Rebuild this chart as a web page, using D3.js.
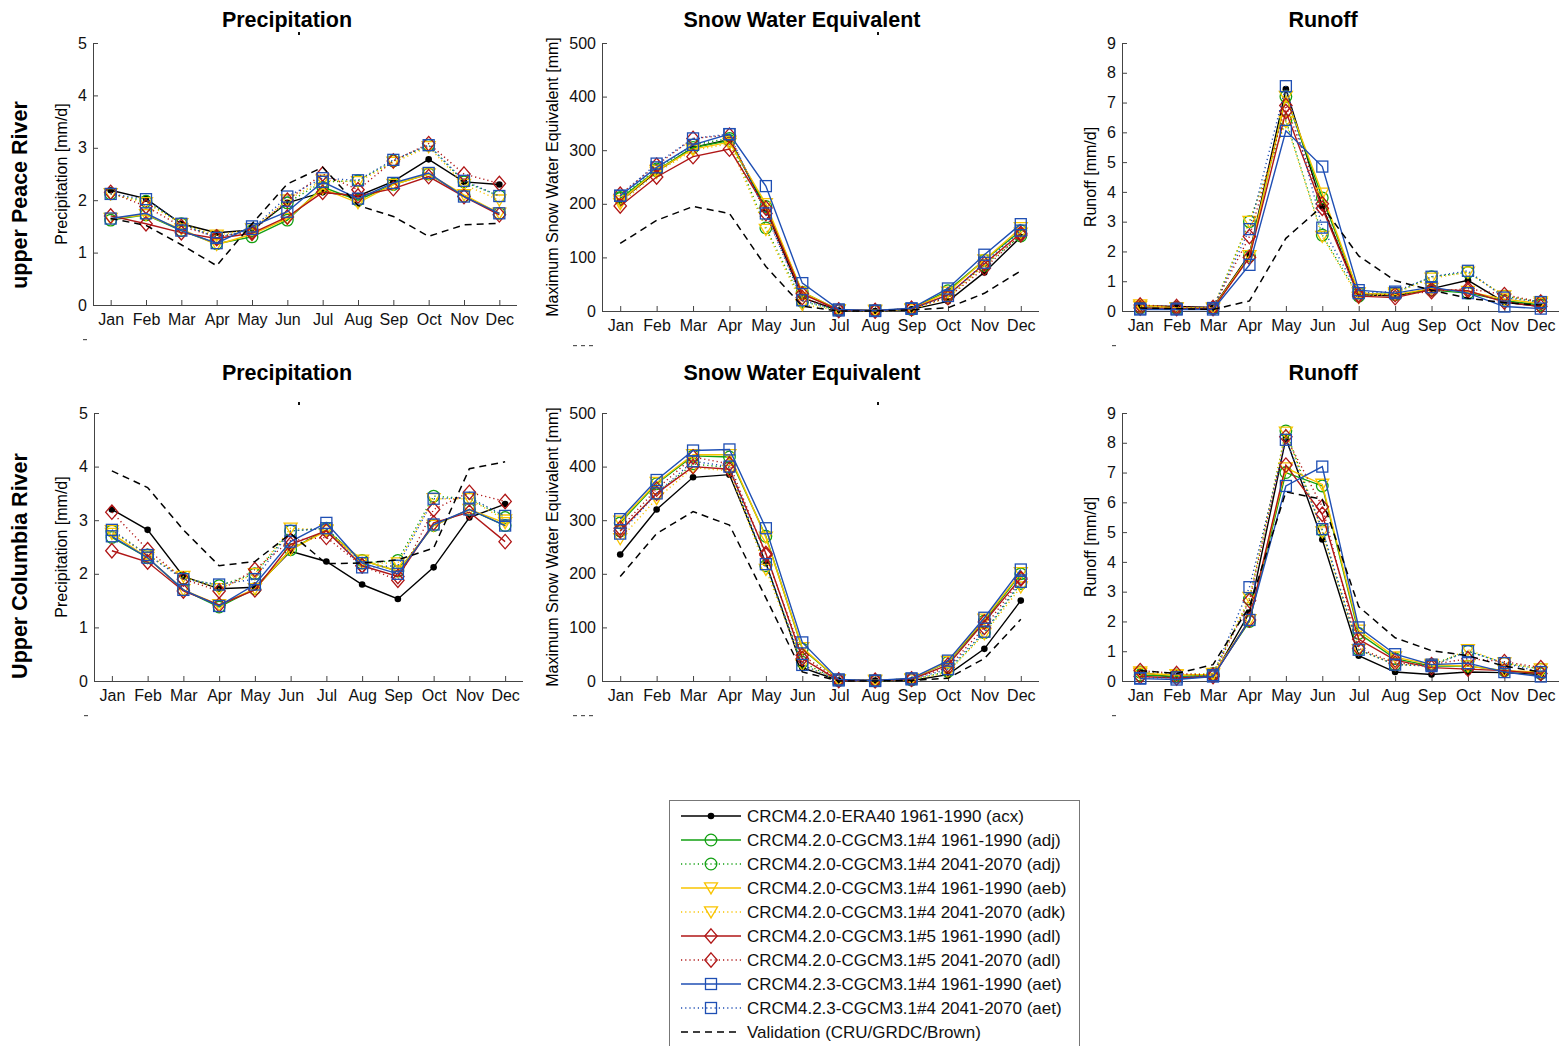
<!DOCTYPE html>
<html>
<head>
<meta charset="utf-8">
<script src="https://cdn.jsdelivr.net/npm/d3@7"></script>
<style>
  body { margin: 0; background: #fff; }
  svg { display: block; font-family: "Liberation Sans", Arial, Helvetica, sans-serif; }
</style>
</head>
<body>
<svg id="chart" width="1561" height="1046"></svg>
<script>
// Month categories on every x axis
const months = ["Jan","Feb","Mar","Apr","May","Jun","Jul","Aug","Sep","Oct","Nov","Dec"];

// Simulation / observation series, in drawing and legend order
const seriesLabels = [
  "CRCM4.2.0-ERA40 1961-1990 (acx)",
  "CRCM4.2.0-CGCM3.1#4 1961-1990 (adj)",
  "CRCM4.2.0-CGCM3.1#4 2041-2070 (adj)",
  "CRCM4.2.0-CGCM3.1#4 1961-1990 (aeb)",
  "CRCM4.2.0-CGCM3.1#4 2041-2070 (adk)",
  "CRCM4.2.0-CGCM3.1#5 1961-1990 (adl)",
  "CRCM4.2.0-CGCM3.1#5 2041-2070 (adl)",
  "CRCM4.2.3-CGCM3.1#4 1961-1990 (aet)",
  "CRCM4.2.3-CGCM3.1#4 2041-2070 (aet)",
  "Validation (CRU/GRDC/Brown)"
];

// Upper Peace River: precipitation [mm/d], one row per series
const peacePrecip = [
  [2.19,2.03,1.55,1.38,1.43,1.95,2.15,2.08,2.36,2.78,2.35,2.30],
  [1.62,1.72,1.42,1.17,1.30,1.62,2.25,2.00,2.30,2.50,2.08,1.75],
  [2.12,1.98,1.55,1.30,1.42,1.95,2.35,2.37,2.75,3.05,2.35,2.08],
  [1.65,1.72,1.45,1.15,1.35,1.65,2.22,1.95,2.30,2.50,2.10,1.75],
  [2.12,1.95,1.55,1.33,1.45,2.00,2.38,2.35,2.72,3.02,2.30,2.00],
  [1.70,1.55,1.38,1.27,1.37,1.68,2.15,2.08,2.22,2.45,2.07,1.72],
  [2.15,1.88,1.50,1.30,1.40,2.00,2.50,2.20,2.75,3.08,2.50,2.32],
  [1.65,1.75,1.42,1.18,1.50,1.78,2.35,2.03,2.33,2.52,2.07,1.75],
  [2.12,2.02,1.55,1.28,1.45,2.07,2.42,2.38,2.77,3.05,2.37,2.08],
  [1.65,1.52,1.15,0.75,1.55,2.31,2.63,1.90,1.69,1.31,1.53,1.56]
];

// Upper Peace River: maximum snow water equivalent [mm]
const peaceSwe = [
  [205,260,305,320,190,25,1,0,3,18,72,138],
  [210,262,305,318,195,35,2,1,4,38,95,150],
  [212,265,310,322,155,18,1,1,3,30,85,140],
  [205,262,302,315,200,35,2,1,4,35,95,155],
  [200,258,300,312,152,12,1,0,2,25,85,145],
  [196,250,288,302,192,32,2,1,4,30,88,145],
  [218,272,322,328,182,25,1,0,5,25,80,142],
  [215,268,310,330,233,52,3,1,5,42,105,162],
  [215,275,322,330,182,20,1,0,4,28,90,150],
  [126,169,195,182,83,9,0,0,2,6,33,75]
];

// Upper Peace River: runoff [mm/d]
const peaceRunoff = [
  [0.18,0.15,0.12,1.90,7.45,3.52,0.55,0.50,0.75,1.03,0.30,0.15],
  [0.10,0.08,0.08,1.85,7.20,3.80,0.60,0.55,0.70,0.60,0.35,0.20],
  [0.15,0.12,0.10,3.00,6.40,2.55,0.50,0.60,1.15,1.30,0.50,0.30],
  [0.20,0.10,0.10,1.85,7.20,3.95,0.60,0.55,0.75,0.65,0.40,0.25],
  [0.15,0.10,0.08,3.00,6.35,2.50,0.45,0.60,1.10,1.30,0.50,0.30],
  [0.10,0.08,0.08,1.80,6.70,3.45,0.50,0.45,0.72,0.68,0.30,0.15],
  [0.20,0.15,0.12,2.50,6.90,3.60,0.55,0.55,0.65,0.75,0.55,0.30],
  [0.05,0.05,0.05,1.55,6.05,4.85,0.70,0.60,0.80,0.60,0.15,0.08],
  [0.08,0.08,0.10,2.75,7.55,2.80,0.60,0.65,1.15,1.35,0.45,0.30],
  [0.10,0.08,0.05,0.34,2.44,3.52,1.85,1.02,0.70,0.43,0.28,0.20]
];

// Upper Columbia River: precipitation [mm/d]
const columbiaPrecip = [
  [3.20,2.82,1.95,1.72,1.75,2.42,2.23,1.80,1.53,2.12,3.05,3.30],
  [2.68,2.30,1.70,1.38,1.72,2.45,2.82,2.25,2.05,2.90,3.20,2.90],
  [2.80,2.35,1.92,1.78,2.00,2.80,2.85,2.20,2.25,3.45,3.40,3.05],
  [2.75,2.30,1.70,1.42,1.72,2.45,2.80,2.25,2.05,2.90,3.20,2.95],
  [2.80,2.35,1.95,1.72,2.00,2.85,2.82,2.20,2.20,3.40,3.40,3.00],
  [2.43,2.22,1.68,1.42,1.70,2.55,2.80,2.15,1.95,2.95,3.15,2.60],
  [3.15,2.45,1.90,1.68,2.08,2.62,2.68,2.15,1.88,3.20,3.52,3.35],
  [2.70,2.30,1.70,1.40,1.80,2.60,2.95,2.20,2.00,2.92,3.20,2.90],
  [2.82,2.35,1.90,1.80,1.90,2.80,2.85,2.12,2.15,3.40,3.42,3.08],
  [3.92,3.61,2.82,2.15,2.23,2.75,2.19,2.20,2.26,2.48,3.96,4.09]
];

// Upper Columbia River: maximum snow water equivalent [mm]
const columbiaSwe = [
  [236,320,380,385,220,25,1,1,1,12,60,150],
  [295,368,420,418,270,60,2,1,4,35,112,200],
  [280,350,405,398,215,35,1,0,2,18,90,182],
  [298,370,422,422,268,62,2,1,4,36,115,202],
  [265,340,398,392,208,30,1,0,2,16,88,175],
  [280,350,400,395,238,42,1,1,3,30,110,192],
  [285,358,418,405,235,48,2,1,4,25,100,190],
  [302,375,430,432,285,72,3,1,5,38,118,208],
  [275,350,410,400,218,30,1,0,3,22,92,185],
  [195,275,316,291,155,17,0,0,1,5,42,115]
];

// Upper Columbia River: runoff [mm/d]
const columbiaRunoff = [
  [0.30,0.10,0.15,2.30,8.15,4.75,0.85,0.30,0.22,0.30,0.28,0.22],
  [0.20,0.15,0.20,2.00,7.00,6.55,1.60,0.75,0.50,0.50,0.35,0.25],
  [0.30,0.20,0.25,2.75,8.40,5.05,1.05,0.55,0.55,1.00,0.60,0.40],
  [0.25,0.20,0.22,2.05,7.15,6.60,1.70,0.80,0.55,0.50,0.35,0.30],
  [0.30,0.20,0.25,2.80,8.35,5.00,1.05,0.55,0.50,1.05,0.60,0.40],
  [0.15,0.10,0.15,2.05,7.25,5.60,1.40,0.70,0.45,0.40,0.35,0.25],
  [0.35,0.25,0.20,2.70,8.20,5.85,1.10,0.60,0.55,0.75,0.65,0.45],
  [0.08,0.05,0.15,2.05,6.55,7.20,1.80,0.90,0.55,0.60,0.30,0.15],
  [0.10,0.12,0.20,3.15,8.10,5.10,1.05,0.55,0.50,1.00,0.60,0.30],
  [0.35,0.25,0.55,2.50,6.35,6.10,2.50,1.45,1.02,0.85,0.50,0.30]
];

// Y-axis tick values per variable
const precipTicks = [0,1,2,3,4,5];
const sweTicks = [0,100,200,300,400,500];
const runoffTicks = [0,1,2,3,4,5,6,7,8,9];

// Line / marker appearance of each series
const seriesStyles = [
  { color: "#000000", dash: null,  marker: "dot" },
  { color: "#12a012", dash: null,  marker: "circle" },
  { color: "#12a012", dash: "1.2,3", marker: "circle" },
  { color: "#f9c400", dash: null,  marker: "triangle" },
  { color: "#f9c400", dash: "1.2,3", marker: "triangle" },
  { color: "#b01616", dash: null,  marker: "diamond" },
  { color: "#b01616", dash: "1.2,3", marker: "diamond" },
  { color: "#1f4fb4", dash: null,  marker: "square" },
  { color: "#1f4fb4", dash: "1.2,3", marker: "square" },
  { color: "#000000", dash: "7,5", marker: null }
];

const svg = d3.select("#chart");

const panels = [
  { data: peacePrecip,    ticks: precipTicks, max: 5,   title: "Precipitation",         tx: 287,  ty: 27,  ylabel: "Precipitation [mm/d]", x0: 93,   x1: 517,  y0: 43,  y1: 305, lab: 31 },
  { data: peaceSwe,       ticks: sweTicks,    max: 500, title: "Snow Water Equivalent", tx: 802,  ty: 27,  ylabel: "Maximum Snow Water Equivalent [mm]", x0: 602, x1: 1039, y0: 43, y1: 311, lab: 49 },
  { data: peaceRunoff,    ticks: runoffTicks, max: 9,   title: "Runoff",                tx: 1323, ty: 27,  ylabel: "Runoff [mm/d]", x0: 1122, x1: 1559, y0: 43, y1: 311, lab: 31 },
  { data: columbiaPrecip, ticks: precipTicks, max: 5,   title: "Precipitation",         tx: 287,  ty: 380, ylabel: "Precipitation [mm/d]", x0: 94,   x1: 523,  y0: 413, y1: 681, lab: 32 },
  { data: columbiaSwe,    ticks: sweTicks,    max: 500, title: "Snow Water Equivalent", tx: 802,  ty: 380, ylabel: "Maximum Snow Water Equivalent [mm]", x0: 602, x1: 1039, y0: 413, y1: 681, lab: 49 },
  { data: columbiaRunoff, ticks: runoffTicks, max: 9,   title: "Runoff",                tx: 1323, ty: 380, ylabel: "Runoff [mm/d]", x0: 1122, x1: 1559, y0: 413, y1: 681, lab: 31 }
];

function drawMarker(g, kind, cx, cy, color) {
  if (kind === "dot") {
    g.append("circle").attr("cx", cx).attr("cy", cy).attr("r", 3.3).attr("fill", color);
  } else if (kind === "circle") {
    g.append("circle").attr("cx", cx).attr("cy", cy).attr("r", 5.8)
      .attr("fill", "none").attr("stroke", color).attr("stroke-width", 1.3);
  } else if (kind === "triangle") {
    const s = 6.5;
    g.append("path").attr("d", `M${cx - s},${cy - s * 0.8}L${cx + s},${cy - s * 0.8}L${cx},${cy + s * 0.9}Z`)
      .attr("fill", "none").attr("stroke", color).attr("stroke-width", 1.3);
  } else if (kind === "diamond") {
    const w = 6.2, h = 7.2;
    g.append("path").attr("d", `M${cx},${cy - h}L${cx + w},${cy}L${cx},${cy + h}L${cx - w},${cy}Z`)
      .attr("fill", "none").attr("stroke", color).attr("stroke-width", 1.3);
  } else if (kind === "square") {
    const s = 5.5;
    g.append("rect").attr("x", cx - s).attr("y", cy - s).attr("width", 2 * s).attr("height", 2 * s)
      .attr("fill", "none").attr("stroke", color).attr("stroke-width", 1.3);
  }
}

panels.forEach((p, pi) => {
  const x = d3.scaleLinear().domain([0.5, 12.5]).range([p.x0, p.x1]);
  const y = d3.scaleLinear().domain([0, p.max]).range([p.y1, p.y0]);
  const g = svg.append("g");

  // x axis with inward ticks
  const xAxis = d3.axisBottom(x).tickValues(d3.range(1, 13)).tickSize(-5).tickPadding(9)
    .tickFormat(i => months[i - 1]);
  const gx = g.append("g").attr("transform", `translate(0,${p.y1})`).call(xAxis);
  gx.select(".domain").attr("stroke", "#444").attr("d", `M${p.x0},0.5H${p.x1}`);
  gx.selectAll(".tick line").attr("stroke", "#444");
  gx.selectAll("text").attr("font-size", 16).attr("fill", "#111");

  // y axis with inward ticks
  const yAxis = d3.axisLeft(y).tickValues(p.ticks).tickSize(-5).tickPadding(6).tickFormat(d3.format("d"));
  const gy = g.append("g").attr("transform", `translate(${p.x0},0)`).call(yAxis);
  gy.select(".domain").attr("stroke", "#444").attr("d", `M0.5,${p.y0}V${p.y1}`);
  gy.selectAll(".tick line").attr("stroke", "#444");
  gy.selectAll("text").attr("font-size", 16).attr("fill", "#111");

  // title and y label
  g.append("text").attr("x", p.tx).attr("y", p.ty)
    .attr("text-anchor", "middle").attr("font-size", 21.5).attr("font-weight", "bold").text(p.title);
  g.append("text")
    .attr("transform", `translate(${p.x0 - p.lab + 5},${(p.y0 + p.y1) / 2}) rotate(-90)`)
    .attr("text-anchor", "middle").attr("font-size", 16).text(p.ylabel);

  // leftover fragments of clipped labels beneath the title and the axes
  if (pi % 3 !== 2) {
    g.append("rect").attr("x", p.tx + (pi % 3 === 0 ? 11 : 75)).attr("y", p.y0 - 11).attr("width", 2).attr("height", 3).attr("fill", "#111");
  }
  g.append("rect").attr("x", p.x0 - (pi % 3 === 1 ? 29 : 10)).attr("y", p.y1 + 34).attr("width", 4).attr("height", 1.2).attr("fill", "#555");
  if (pi % 3 === 1) {
    [-21, -13].forEach(dx => g.append("rect").attr("x", p.x0 + dx).attr("y", p.y1 + 34).attr("width", 4).attr("height", 1.2).attr("fill", "#555"));
  }

  const line = d3.line().x((d, i) => x(i + 1)).y(d => y(d));
  p.data.forEach((vals, si) => {
    const st = seriesStyles[si];
    const sg = g.append("g");
    sg.append("path").attr("d", line(vals)).attr("fill", "none")
      .attr("stroke", st.color).attr("stroke-width", si === 9 ? 1.5 : 1.4)
      .attr("stroke-dasharray", st.dash);
    if (st.marker) vals.forEach((v, i) => drawMarker(sg, st.marker, x(i + 1), y(v), st.color));
  });
});

// Row labels
[["upper Peace River", 195], ["Upper Columbia River", 566]].forEach(([t, cy]) => {
  svg.append("text").attr("transform", `translate(27,${cy}) rotate(-90)`)
    .attr("text-anchor", "middle").attr("font-size", 21.5).attr("font-weight", "bold").text(t);
});

// Legend
const lg = svg.append("g");
lg.append("rect").attr("x", 669.5).attr("y", 800.5).attr("width", 410).attr("height", 260)
  .attr("fill", "#fff").attr("stroke", "#777");
seriesLabels.forEach((lab, i) => {
  const cy = 816 + i * 24;
  const st = seriesStyles[i];
  lg.append("line").attr("x1", 681).attr("x2", 741).attr("y1", cy).attr("y2", cy)
    .attr("stroke", st.color).attr("stroke-width", 1.4).attr("stroke-dasharray", st.dash);
  if (st.marker) drawMarker(lg, st.marker, 711, cy, st.color);
  lg.append("text").attr("x", 747).attr("y", cy + 6).attr("font-size", 17).attr("fill", "#111").text(lab);
});
</script>
</body>
</html>
